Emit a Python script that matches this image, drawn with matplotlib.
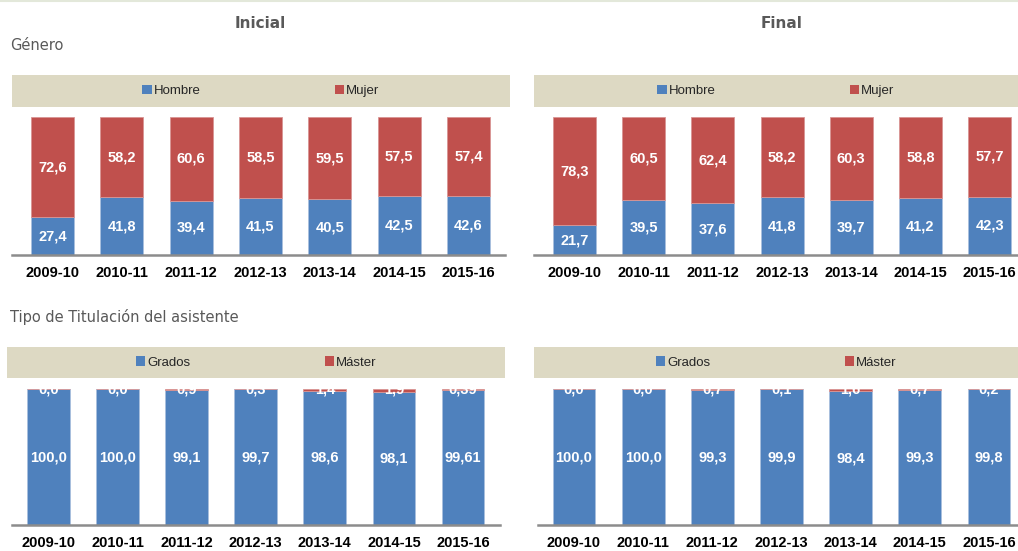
import matplotlib
matplotlib.use("Agg")
import matplotlib.pyplot as plt
from matplotlib.patches import Rectangle, Patch
from matplotlib.lines import Line2D

seasons = ["2009-10", "2010-11", "2011-12", "2012-13", "2013-14", "2014-15", "2015-16"]

hombre_ini = [27.4, 41.8, 39.4, 41.5, 40.5, 42.5, 42.6]
mujer_ini = [72.6, 58.2, 60.6, 58.5, 59.5, 57.5, 57.4]
hombre_fin = [21.7, 39.5, 37.6, 41.8, 39.7, 41.2, 42.3]
mujer_fin = [78.3, 60.5, 62.4, 58.2, 60.3, 58.8, 57.7]

grados_ini = [100.0, 100.0, 99.1, 99.7, 98.6, 98.1, 99.61]
master_ini = [0.0, 0.0, 0.9, 0.3, 1.4, 1.9, 0.39]
grados_ini_lbl = ["100,0", "100,0", "99,1", "99,7", "98,6", "98,1", "99,61"]
master_ini_lbl = ["0,0", "0,0", "0,9", "0,3", "1,4", "1,9", "0,39"]
grados_fin = [100.0, 100.0, 99.3, 99.9, 98.4, 99.3, 99.8]
master_fin = [0.0, 0.0, 0.7, 0.1, 1.6, 0.7, 0.2]

BLUE = "#4F81BD"
RED = "#C0504D"
BEIGE = "#DDD9C3"
GREY = "#595959"

W, H = 1018, 551
fig = plt.figure(figsize=(W / 100, H / 100), dpi=100)

narrow = ["Liberation Sans Narrow", "Liberation Sans", "DejaVu Sans"]
sans = ["Liberation Sans", "DejaVu Sans"]


def px_axes(x0, x1, ytop, ybot):
    return fig.add_axes([x0 / W, (H - ybot) / H, (x1 - x0) / W, (ybot - ytop) / H])


def fmt(v):
    return f"{v:.1f}".replace(".", ",")


def legend_box(x0, x1, ytop, ybot, labels):
    fig.patches.append(Rectangle((x0 / W, (H - ybot) / H), (x1 - x0) / W, (ybot - ytop) / H,
                                 transform=fig.transFigure, facecolor=BEIGE, edgecolor="none"))
    handles = [Patch(facecolor=BLUE), Patch(facecolor=RED)]
    fig.legend(handles, labels, loc="center", ncol=2, frameon=False,
               bbox_to_anchor=((x0 + x1) / 2 / W, (H - (ytop + ybot) / 2) / H),
               prop={"family": narrow, "size": 9.5}, labelcolor="#262626",
               handlelength=0.7, handleheight=0.7, handletextpad=0.15, columnspacing=10.2)


def panel(ax, low, high, xlim, low_lbl=None, high_lbl=None, high_clip=False):
    x = list(range(len(seasons)))
    ax.bar(x, low, width=0.62, color=BLUE, edgecolor="#a9c0de", linewidth=0.6)
    ax.bar(x, high, bottom=low, width=0.62, color=RED, edgecolor="#d99594", linewidth=0.6)
    low_lbl = low_lbl or [fmt(v) for v in low]
    high_lbl = high_lbl or [fmt(v) for v in high]
    for i in x:
        ax.text(i, low[i] / 2, low_lbl[i], ha="center", va="center", color="white",
                fontsize=10.5, fontweight="bold", family=sans)
        ypos = 100 if high_clip else low[i] + high[i] / 2
        ax.text(i, ypos, high_lbl[i], ha="center", va="center", color="white",
                fontsize=10.5, fontweight="bold", family=sans, clip_on=True)
    ax.set_xlim(*xlim)
    ax.set_ylim(0, 100)
    ax.set_xticks(x)
    ax.set_xticklabels(seasons, fontsize=10.5, fontweight="bold", family=sans)
    ax.tick_params(axis="x", length=0, pad=8)
    ax.set_yticks([])
    for s in ["top", "left", "right"]:
        ax.spines[s].set_visible(False)
    ax.spines["bottom"].set_color("#8c8c8c")
    ax.spines["bottom"].set_linewidth(1.8)


# thin frame line along the top edge of the page
fig.add_artist(Line2D([0, 1], [1 - 1 / H, 1 - 1 / H], transform=fig.transFigure,
                      color="#e3e8da", linewidth=1.5))

fig.text(260 / W, 1 - 24 / H, "Inicial", ha="center", va="center", fontsize=11,
         fontweight="bold", color=GREY, family="DejaVu Sans")
fig.text(782 / W, 1 - 24 / H, "Final", ha="center", va="center", fontsize=11,
         fontweight="bold", color=GREY, family="DejaVu Sans")
fig.text(10 / W, 1 - 46 / H, "Género", ha="left", va="center", fontsize=10.5,
         color=GREY, family="DejaVu Sans")
fig.text(10 / W, 1 - 317 / H, "Tipo de Titulación del asistente", ha="left", va="center",
         fontsize=10.5, color=GREY, family="DejaVu Sans")

legend_box(12, 510, 75, 107, ["Hombre", "Mujer"])
legend_box(534, 1018, 75, 107, ["Hombre", "Mujer"])
legend_box(7, 505, 347, 378, ["Grados", "Máster"])
legend_box(534, 1018, 347, 378, ["Grados", "Máster"])

ax1 = px_axes(12, 505, 117, 255)
panel(ax1, hombre_ini, mujer_ini, (-0.584, 6.527))
ax2 = px_axes(534, 1018, 117, 255)
panel(ax2, hombre_fin, mujer_fin, (-0.585, 6.41))
ax3 = px_axes(12, 500, 389, 525)
panel(ax3, grados_ini, master_ini, (-0.528, 6.535), low_lbl=grados_ini_lbl,
      high_lbl=master_ini_lbl, high_clip=True)
ax4 = px_axes(538, 1018, 389, 525)
panel(ax4, grados_fin, master_fin, (-0.52, 6.42), high_clip=True)

fig.savefig("out.png", dpi=100)
